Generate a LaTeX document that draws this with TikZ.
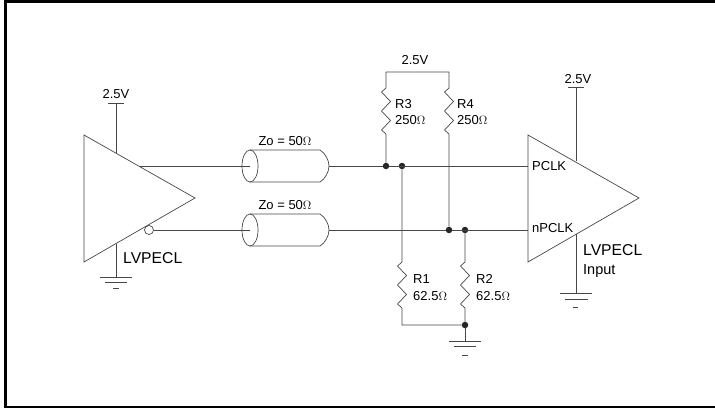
\documentclass[tikz,border=0pt]{standalone}
\usepackage{fontspec}
\setmainfont{Liberation Sans}
\usepackage{tikz}
\usetikzlibrary{arrows}

\tikzset{
wire/.style={line width=0.7pt,draw=black!72},
txt/.style={inner sep=0pt,anchor=west,font=\fontsize{13}{13}\selectfont},
bigtxt/.style={inner sep=0pt,anchor=west,font=\fontsize{15.7}{16}\selectfont},
dot/.style={shape=circle,fill=black!85,inner sep=0pt,minimum size=6.5pt},
zigres/.style={to path={-- ++(-4.5,4) -- ++(9,9.5) -- ++(-9,9.5) -- ++(9,9.5) -- ++(-9,9.5) -- (\tikztotarget)}}
}

\begin{document}
\begin{tikzpicture}[x=1pt,y=-1pt]
\useasboundingbox (0,0) rectangle (715,408);
\fill[black] (4,0) rectangle (715,2.5);
\fill[black] (4,0) rectangle (7,408);
\fill[black] (4,406) rectangle (715,408);
% drivers
\coordinate (a1) at (84,135);
\coordinate (a2) at (195,198);
\coordinate (a3) at (84,262);
\coordinate (b1) at (528,135);
\coordinate (b2) at (639,198);
\coordinate (b3) at (528,262);
\draw[wire] (a1) -- (a2) -- (a3) -- cycle;
\draw[wire] (b1) -- (b2) -- (b3) -- cycle;
\node[shape=circle,draw=black!72,line width=0.7pt,inner sep=0pt,minimum size=9pt] (bub) at (149,230) {};
% supplies
\coordinate (s1) at (116,103);
\coordinate (s1e) at (116,153);
\coordinate (s1l) at (108,103);
\coordinate (s1r) at (124,103);
\coordinate (s2) at (576,87);
\coordinate (s2e) at (576,161);
\coordinate (s2l) at (568,87);
\coordinate (s2r) at (584,87);
\path [wire] (s1) edge (s1e);
\path [wire] (s1l) edge (s1r);
\path [wire] (s2) edge (s2e);
\path [wire] (s2l) edge (s2r);
\node[txt,anchor=center] (v1) at (116,94) {2.5V};
\node[txt,anchor=center] (v2) at (578,79) {2.5V};
\node[txt,anchor=center] (v3) at (415,60) {2.5V};
% cables
\coordinate (c1) at (250,166);
\coordinate (c1r) at (329,166);
\coordinate (c2) at (250,230);
\coordinate (c2r) at (329,230);
\draw[wire] (c1) ellipse (8 and 16);
\draw[wire] (250,150) -- (320,150) .. controls (325,153) and (329,160) .. (c1r) .. controls (329,172) and (325,179) .. (320,182) -- (250,182);
\draw[wire] (c2) ellipse (8 and 16);
\draw[wire] (250,214) -- (320,214) .. controls (325,217) and (329,224) .. (c2r) .. controls (329,236) and (325,243) .. (320,246) -- (250,246);
\node[txt,anchor=center] (z1) at (285,141) {Zo = 50$\Omega$};
\node[txt,anchor=center] (z2) at (285,205) {Zo = 50$\Omega$};
% junctions
\node[dot] (j1) at (386,166) {};
\node[dot] (j2) at (402,166) {};
\node[dot] (j3) at (449,230) {};
\node[dot] (j4) at (465,230) {};
\node[dot] (j5) at (465,325) {};
\coordinate (o1) at (140,166);
\coordinate (i1) at (528,166);
\coordinate (i2) at (528,230);
\path [wire] (o1) edge (c1);
\path [wire] (bub) edge (c2);
\path [wire] (c1r) edge (j1);
\path [wire] (c2r) edge (j3);
\path [wire] (j1) edge (i1);
\path [wire] (j3) edge (i2);
% resistors
\coordinate (r3a) at (386,88);
\coordinate (r3b) at (386,134);
\coordinate (r4a) at (449,88);
\coordinate (r4b) at (449,134);
\coordinate (r1a) at (402,262);
\coordinate (r1b) at (402,308);
\coordinate (r2a) at (465,262);
\coordinate (r2b) at (465,308);
\coordinate (t1) at (386,72);
\coordinate (t2) at (449,72);
\coordinate (g1) at (402,325);
\draw[wire] (r3a) -- (t1) -- (t2) -- (r4a) to[zigres] (r4b) -- (j3);
\draw[wire] (r3a) to[zigres] (r3b) -- (j1);
\draw[wire] (j2) -- (r1a) to[zigres] (r1b) -- (g1) -- (j5);
\draw[wire] (j4) -- (r2a) to[zigres] (r2b) -- (j5);
% grounds
\coordinate (g2) at (116,244);
\coordinate (g2e) at (116,277);
\coordinate (g3e) at (465,341);
\coordinate (g4) at (576,234);
\coordinate (g4e) at (576,293);
\path [wire] (g2) edge (g2e);
\path [wire] (j5) edge (g3e);
\path [wire] (g4) edge (g4e);
\draw[wire] (100,277) -- (132,277) (105,282) -- (127,282) (113,288) -- (119,288);
\draw[wire] (449,341) -- (481,341) (454,346) -- (476,346) (462,355) -- (468,355);
\draw[wire] (560,293) -- (592,293) (565,299) -- (588,299) (573,307) -- (578,307);
% labels
\node[txt] (pclk) at (532,166) {PCLK};
\node[txt] (npclk) at (532,228) {nPCLK};
\node[bigtxt] (lv1) at (123,258) {LVPECL};
\node[bigtxt] (lv2) at (583,250) {LVPECL};
\node[bigtxt,font=\fontsize{14.5}{15}\selectfont] (inp) at (583,271) {Input};
\node[txt] (r3n) at (395,104) {R3};
\node[txt] (r3v) at (395,120) {250$\Omega$};
\node[txt] (r4n) at (457,104) {R4};
\node[txt] (r4v) at (457,120) {250$\Omega$};
\node[txt] (r1n) at (413,279) {R1};
\node[txt] (r1v) at (413,296) {62.5$\Omega$};
\node[txt] (r2n) at (476,279) {R2};
\node[txt] (r2v) at (476,296) {62.5$\Omega$};
\end{tikzpicture}
\end{document}
